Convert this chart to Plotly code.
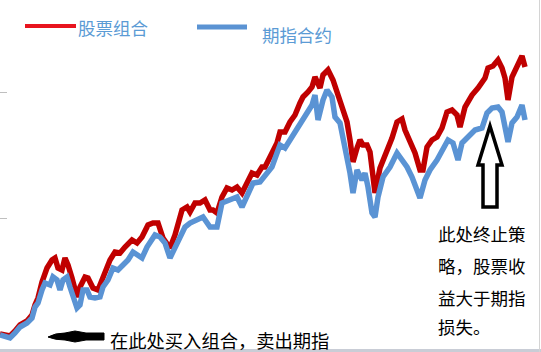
import plotly.graph_objects as go

# Time positions (trading-day index) and index levels
stock_x = [0,10,15,20,27,32,35,38,42,47,52,55,58,62,65,68,72,77,80,85,88,93,98,103,110,115,120,125,132,137,
           142,148,153,158,163,170,175,182,187,190,195,200,205,210,213,217,222,227,232,237,242,247,252,257,262,265,270,277,280,285,
           290,295,300,303,308,312,315,320,323,328,333,337,340,343,347,350,353,357,360,363,367,370,373,375,380,387,392,397,402,405,
           410,415,420,423,427,432,437,442,447,452,457,460,465,472,478,485,488,493,498,502,505,508,512,517,522,525]
stock_y = [18,16,21,27,31,37,47,54,70,84,92,94,84,82,94,87,74,55,65,75,74,64,62,75,92,100,99,105,112,109,
           115,127,129,129,114,104,117,142,145,140,149,149,152,142,142,139,155,164,162,165,159,169,179,177,185,185,194,209,220,220,
           230,237,249,255,260,265,275,264,277,282,272,259,252,239,230,212,190,204,212,207,207,200,167,159,184,200,214,230,233,222,
           212,199,182,182,205,212,215,224,240,242,237,225,245,257,264,274,284,286,292,284,274,252,275,285,296,285]

fut_x = [0,10,15,20,27,32,35,38,42,45,50,53,57,60,63,67,70,73,77,80,83,87,90,95,100,103,108,113,118,123,
         128,133,137,142,147,152,155,160,165,170,175,180,185,190,197,203,210,217,222,230,237,242,247,253,260,265,272,277,280,285,
         290,295,300,307,312,315,318,323,327,332,335,340,345,350,353,357,362,365,368,372,375,378,383,390,397,400,407,412,417,420,
         425,430,437,443,448,453,458,462,468,475,482,487,492,498,502,505,508,512,517,522,525]
fut_y = [17,14,19,25,29,34,45,49,62,69,67,75,72,62,72,75,65,57,44,47,62,62,55,54,55,65,72,84,82,87,
         92,100,97,94,105,112,117,115,109,94,105,117,125,129,132,135,125,125,149,152,155,145,155,169,170,177,185,199,207,204,
         212,220,229,239,247,257,232,252,262,255,235,229,205,179,159,182,172,179,165,139,135,155,175,185,199,195,185,175,162,154,
         172,182,192,202,212,209,192,209,215,222,224,239,244,245,240,222,210,229,235,247,232]

series_names = ["股票组合", "期指合约"]
note_buy = "在此处买入组合，卖出期指"
note_stop = ["此处终止策", "略，股票收", "益大于期指", "损失。"]

RED = "#c00000"
BLUE = "#5a93d4"
FONT = "Noto Sans CJK SC"

fig = go.Figure()
fig.add_trace(go.Scatter(x=stock_x, y=stock_y, mode="lines", name=series_names[0],
                         line=dict(color=RED, width=5.5), showlegend=False))
fig.add_trace(go.Scatter(x=fut_x, y=fut_y, mode="lines", name=series_names[1],
                         line=dict(color=BLUE, width=5.5), showlegend=False))

# legend drawn manually
fig.add_shape(type="line", x0=25, x1=76, y0=326, y1=326, xref="x", yref="y",
              line=dict(color="#e8141e", width=4))
fig.add_shape(type="line", x0=197, x1=247, y0=325, y1=325, xref="x", yref="y",
              line=dict(color="#5b93d3", width=5))
fig.add_annotation(x=76, y=325, text=series_names[0], showarrow=False, xanchor="left", yanchor="middle",
                   font=dict(family=FONT, size=17.5, color="#5b9bd5"))
fig.add_annotation(x=260, y=318, text=series_names[1], showarrow=False, xanchor="left", yanchor="middle",
                   font=dict(family=FONT, size=17.5, color="#5b9bd5"))

# buy note + brush arrow
fig.add_shape(type="path", xref="x", yref="y",
              path="M 48,15 Q 55,19 65,19 L 75,21 L 86,19 L 104,19 L 104,12 L 86,12 L 75,10 L 65,12 Q 55,12 48,15 Z",
              fillcolor="black", line=dict(color="black", width=1))
fig.add_annotation(x=108, y=12, text=note_buy, showarrow=False, xanchor="left", yanchor="middle",
                   font=dict(family=FONT, size=18.3, color="black"))

# stop note + hollow up arrow
fig.add_shape(type="path", xref="x", yref="y",
              path="M 490,226 L 502,187 L 497,187 L 497,145 L 483,145 L 483,187 L 478,187 Z",
              fillcolor="rgba(0,0,0,0)", line=dict(color="black", width=3.5))
for txt, yy in zip(note_stop, [119, 87, 55, 26]):
    fig.add_annotation(x=436, y=yy, text=txt, showarrow=False, xanchor="left", yanchor="middle",
                       font=dict(family=FONT, size=17.5, color="black"))

# window frame bits
fig.add_shape(type="rect", xref="paper", yref="paper", x0=0, x1=1, y0=0, y1=3/352,
              fillcolor="#c9cdd6", line=dict(width=0))
fig.add_shape(type="line", xref="paper", yref="paper", x0=1 - 1.5/541, x1=1 - 1.5/541, y0=0, y1=1,
              line=dict(color="#d4d4d4", width=1))

fig.update_layout(
    width=541, height=352,
    margin=dict(l=0, r=0, t=0, b=0),
    paper_bgcolor="white", plot_bgcolor="white",
    xaxis=dict(range=[0, 541], visible=False),
    yaxis=dict(range=[0, 352], showgrid=False, zeroline=False, showline=False,
               tickvals=[134, 260], ticks="inside", ticklen=7, tickcolor="#bfbfbf",
               showticklabels=False),
)

fig.write_html("out.html")
